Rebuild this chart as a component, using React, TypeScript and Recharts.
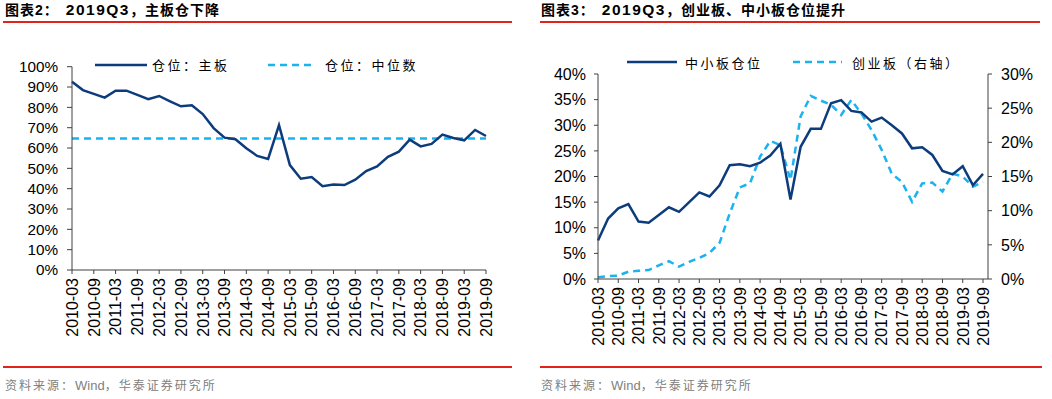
import React from 'react';
import {
  LineChart,
  Line,
  XAxis,
  YAxis,
  ReferenceLine,
} from 'recharts';

const quarters = [
  '2010-03', '2010-06', '2010-09', '2010-12',
  '2011-03', '2011-06', '2011-09', '2011-12',
  '2012-03', '2012-06', '2012-09', '2012-12',
  '2013-03', '2013-06', '2013-09', '2013-12',
  '2014-03', '2014-06', '2014-09', '2014-12',
  '2015-03', '2015-06', '2015-09', '2015-12',
  '2016-03', '2016-06', '2016-09', '2016-12',
  '2017-03', '2017-06', '2017-09', '2017-12',
  '2018-03', '2018-06', '2018-09', '2018-12',
  '2019-03', '2019-06', '2019-09',
];

// 主板仓位 (%)
const mainBoard = [
  92.6, 88.5, 86.6, 84.8, 88.2, 88.2, 86.1, 84.0, 85.6, 83.0,
  80.5, 81.0, 76.7, 69.8, 65.1, 64.3, 59.9, 56.1, 54.6, 71.3,
  51.6, 44.9, 45.7, 41.2, 42.0, 41.8, 44.4, 48.7, 51.0, 55.7,
  58.2, 64.1, 60.8, 62.0, 66.6, 64.9, 63.8, 68.9, 65.9,
];
const mainMedian = 64.7;

// 中小板仓位 (%, 左轴)
const smeBoard = [
  7.5, 11.8, 13.8, 14.6, 11.2, 11.0, 12.5, 14.0, 13.1, 15.0,
  16.9, 16.1, 18.3, 22.2, 22.4, 22.0, 22.7, 24.1, 26.4, 15.5,
  25.8, 29.3, 29.3, 34.3, 34.9, 32.8, 32.5, 30.7, 31.5, 30.0,
  28.4, 25.5, 25.7, 24.2, 21.1, 20.4, 22.0, 18.3, 20.5,
];

// 创业板仓位 (%, 右轴)
const chiNext = [
  0.25, 0.44, 0.5, 1.07, 1.2, 1.3, 2.0, 2.6, 1.8, 2.5,
  3.1, 3.8, 5.3, 9.6, 13.4, 14.0, 17.9, 20.2, 19.6, 14.5,
  23.8, 26.8, 26.1, 25.5, 24.0, 26.2, 24.2, 21.8, 18.9, 15.4,
  14.2, 11.3, 14.0, 14.1, 12.8, 15.4, 15.0, 13.5, 14.2,
];

const leftTicks = [0, 10, 20, 30, 40, 50, 60, 70, 80, 90, 100];
const rightLeftTicks = [0, 5, 10, 15, 20, 25, 30, 35, 40];
const rightRightTicks = [0, 5, 10, 15, 20, 25, 30];

const NAVY = '#0d3c7c';
const SKY = '#1ab2ef';
const AXIS = '#404040';
const RED = '#e2231a';
const LATIN = "'Liberation Sans', Arial, 'Noto Sans CJK SC', sans-serif";
const CJK = "'Noto Sans CJK SC', sans-serif";

const mainData = quarters.map((q, i) => ({ q, main: mainBoard[i] }));
const smallData = quarters.map((q, i) => ({ q, sme: smeBoard[i], gem: chiNext[i] }));

const XTick = (props: any) => {
  const { x, y, payload } = props;
  return (
    <g transform={`translate(${x},${y})`}>
      <text
        transform="rotate(-90)"
        textAnchor="end"
        dy="0.36em"
        fill="#000"
        fontSize={16}
        fontFamily={LATIN}
      >
        {payload.value}
      </text>
    </g>
  );
};

const pct = (v: number) => `${v}%`;

const LegendItem: React.FC<{ x: number; y: number; w: number; dashed?: boolean; label: string; gap: number }> = ({
  x, y, w, dashed, label, gap,
}) => (
  <div style={{ position: 'absolute', left: x, top: y - 10, height: 20, display: 'flex', alignItems: 'center' }}>
    <svg width={w} height={20} style={{ display: 'block' }}>
      <line
        x1={0}
        x2={w}
        y1={10}
        y2={10}
        stroke={dashed ? SKY : NAVY}
        strokeWidth={2.5}
        strokeDasharray={dashed ? '7 5' : undefined}
      />
    </svg>
    <span
      style={{
        marginLeft: gap,
        fontFamily: CJK,
        fontSize: 13,
        letterSpacing: 2.5,
        color: '#000',
        whiteSpace: 'nowrap',
      }}
    >
      {label}
    </span>
  </div>
);

const Title: React.FC<{ x: number; num: string; rest: string }> = ({ x, num, rest }) => (
  <div
    style={{
      position: 'absolute',
      left: x,
      top: 0,
      lineHeight: '20px',
      fontSize: 14,
      fontWeight: 'bold',
      fontFamily: LATIN,
      color: '#000',
      whiteSpace: 'nowrap',
    }}
  >
    <span style={{ letterSpacing: 1 }}>图表{num}：</span>
    <span style={{ marginLeft: 7, fontSize: 15.5, letterSpacing: 1.5 }}>2019Q3</span>
    <span style={{ letterSpacing: 1 }}>{rest}</span>
  </div>
);

const Source: React.FC<{ x: number }> = ({ x }) => (
  <div
    style={{
      position: 'absolute',
      left: x,
      top: 376,
      lineHeight: '20px',
      fontSize: 12,
      fontFamily: LATIN,
      color: '#808080',
      whiteSpace: 'nowrap',
    }}
  >
    <span style={{ letterSpacing: 2 }}>资料来源：</span>
    <span style={{ fontSize: 13 }}>Wind</span>
    <span style={{ letterSpacing: 2 }}>，华泰证券研究所</span>
  </div>
);

const Rule: React.FC<{ x: number; y: number; w: number; h: number }> = ({ x, y, w, h }) => (
  <div style={{ position: 'absolute', left: x, top: y, width: w, height: h, background: RED }} />
);

const App: React.FC = () => {
  return (
    <div
      style={{
        position: 'absolute',
        left: 0,
        top: 0,
        width: 1052,
        height: 399,
        background: '#fff',
        overflow: 'hidden',
      }}
    >
      {/* 图表2 */}
      <Title x={5} num="2" rest="，主板仓下降" />
      <Rule x={3} y={21} w={509} h={2} />
      <div style={{ position: 'absolute', left: 0, top: 0 }}>
        <LineChart
          width={520}
          height={360}
          data={mainData}
          margin={{ top: 66.7, right: 34, bottom: 30, left: 12 }}
        >
          <XAxis
            dataKey="q"
            interval={1}
            tick={<XTick />}
            tickSize={4}
            tickMargin={4}
            height={60}
            stroke={AXIS}
            padding={{ left: 0, right: 0 }}
          />
          <YAxis
            domain={[0, 100]}
            ticks={leftTicks}
            tickFormatter={pct}
            width={60}
            tickSize={5}
            tickMargin={9}
            stroke={AXIS}
            tick={{ fill: '#000', fontSize: 15.3, fontFamily: LATIN }}
            interval={0}
          />
          <ReferenceLine
            y={mainMedian}
            stroke={SKY}
            strokeWidth={2.5}
            strokeDasharray="7 5"
          />
          <Line
            dataKey="main"
            stroke={NAVY}
            strokeWidth={2.5}
            dot={false}
            isAnimationActive={false}
          />
        </LineChart>
      </div>
      <LegendItem x={95} y={64.5} w={52} label="仓位：主板" gap={5} />
      <LegendItem x={268} y={64.5} w={48} dashed label="仓位：中位数" gap={9} />
      <Rule x={3} y={366} w={509} h={1.5} />
      <Source x={5} />

      {/* 图表3 */}
      <Title x={541} num="3" rest="，创业板、中小板仓位提升" />
      <Rule x={540} y={21} w={500} h={2} />
      <div style={{ position: 'absolute', left: 520, top: 0 }}>
        <LineChart
          width={532}
          height={360}
          data={smallData}
          margin={{ top: 74, right: 4, bottom: 21, left: 18 }}
        >
          <XAxis
            dataKey="q"
            interval={1}
            tick={<XTick />}
            tickSize={4}
            tickMargin={4}
            height={60}
            stroke={AXIS}
            padding={{ left: 0, right: 5 }}
          />
          <YAxis
            yAxisId="left"
            domain={[0, 40]}
            ticks={rightLeftTicks}
            tickFormatter={pct}
            width={60}
            tickSize={4}
            tickMargin={8}
            stroke={AXIS}
            tick={{ fill: '#000', fontSize: 16, fontFamily: LATIN }}
            interval={0}
          />
          <YAxis
            yAxisId="right"
            orientation="right"
            domain={[0, 30]}
            ticks={rightRightTicks}
            tickFormatter={pct}
            width={60}
            tickSize={4}
            tickMargin={9}
            stroke={AXIS}
            tick={{ fill: '#000', fontSize: 16, fontFamily: LATIN }}
            interval={0}
          />
          <Line
            yAxisId="right"
            dataKey="gem"
            stroke={SKY}
            strokeWidth={2.5}
            strokeDasharray="7 5"
            dot={false}
            isAnimationActive={false}
          />
          <Line
            yAxisId="left"
            dataKey="sme"
            stroke={NAVY}
            strokeWidth={2.5}
            dot={false}
            isAnimationActive={false}
          />
        </LineChart>
      </div>
      <LegendItem x={627} y={62} w={50} label="中小板仓位" gap={8} />
      <LegendItem x={793} y={62} w={49} dashed label="创业板（右轴）" gap={10} />
      <Rule x={540} y={366} w={502} h={1.5} />
      <Source x={541} />
    </div>
  );
};

export default App;
